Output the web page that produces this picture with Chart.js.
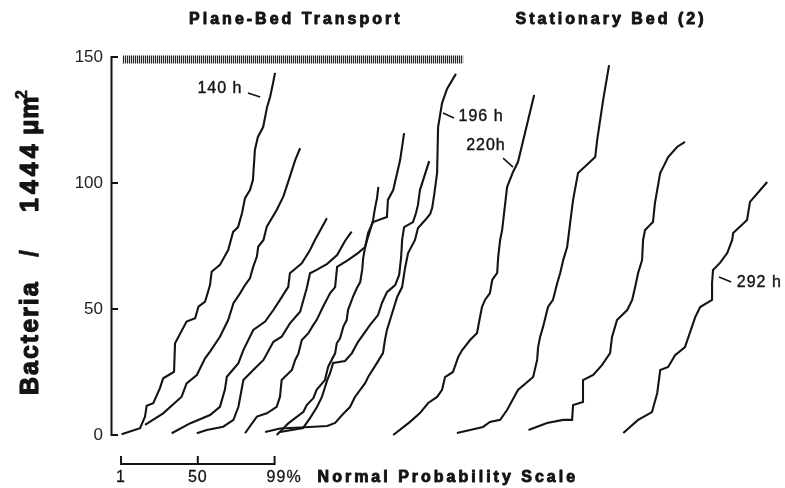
<!DOCTYPE html>
<html>
<head>
<meta charset="utf-8">
<script src="https://cdn.jsdelivr.net/npm/chart.js@4/dist/chart.umd.min.js"></script>
<style>
  html, body { margin: 0; padding: 0; background: #fff; }
  canvas { display: block; }
</style>
</head>
<body>
<canvas id="chart" width="785" height="488"></canvas>
<script>
(function () {
  "use strict";

  // x = position on the normal probability scale (standard deviates, each run
  // offset to the right), y = bacteria per 1444 um^2..
  const run140h = [[0.32,0.3],[0.88,2.7],[1.03,7.3],[1.08,11.6],[1.28,12.6],[1.48,18.5],[1.58,22.5],[1.84,24.5],[1.91,25.1],[1.94,36.4],[2.29,45.0],[2.55,46.3],[2.65,50.9],[2.85,52.9],[3.00,59.5],[3.05,64.8],[3.30,67.5],[3.55,73.4],[3.70,80.6],[3.85,82.5],[3.97,88.1],[4.06,94.0],[4.21,97.2],[4.30,101.2],[4.36,113.1],[4.45,118.3],[4.61,122.2],[4.73,130.2],[4.82,134.1],[4.91,139.7],[4.97,143.7]];
  const run2 = [[1.03,4.0],[1.58,8.6],[2.14,15.2],[2.29,20.5],[2.60,23.8],[2.85,30.4],[3.00,33.1],[3.30,39.0],[3.55,45.6],[3.71,52.3],[3.91,56.2],[4.06,59.5],[4.21,62.2],[4.31,66.8],[4.42,70.8],[4.46,74.7],[4.62,77.4],[4.72,82.7],[5.02,89.3],[5.22,94.6],[5.42,102.5],[5.58,109.1],[5.73,113.8]];
  const run3 = [[1.84,0.7],[2.39,4.6],[3.00,7.9],[3.30,11.2],[3.45,17.9],[3.51,23.1],[3.86,28.5],[4.01,33.7],[4.31,41.7],[4.67,45.0],[4.92,49.6],[5.12,53.6],[5.37,58.8],[5.42,64.2],[5.78,68.1],[6.03,73.4],[6.18,77.4],[6.54,86.0]];
  const run4 = [[2.60,0.7],[2.90,2.0],[3.40,3.3],[3.71,6.0],[3.86,11.2],[4.01,21.8],[4.31,25.8],[4.62,29.8],[4.92,37.0],[5.17,39.0],[5.42,44.3],[5.73,48.9],[5.93,58.2],[6.03,64.2],[6.23,65.5],[6.55,67.9],[6.85,71.4],[7.09,77.0],[7.29,80.7]];
  const run5 = [[4.06,0.7],[4.42,7.3],[4.72,8.6],[5.02,11.2],[5.12,15.2],[5.17,21.8],[5.48,25.8],[5.58,29.8],[5.68,32.4],[5.78,37.7],[5.98,40.4],[6.13,43.7],[6.23,45.6],[6.42,50.8],[6.64,56.3],[6.79,58.7],[6.85,66.7],[7.18,69.4],[7.48,72.2],[7.70,74.6],[7.79,80.2],[7.94,84.5],[8.36,86.5],[8.39,93.3],[8.55,97.2],[8.76,109.1],[8.88,119.8]];
  const run6 = [[5.02,0.0],[5.17,2.0],[5.37,4.6],[5.83,9.2],[5.93,11.9],[6.13,14.6],[6.23,17.9],[6.48,21.8],[6.58,27.1],[6.79,32.4],[6.84,36.4],[6.94,38.4],[7.04,43.0],[7.14,45.6],[7.18,49.6],[7.33,54.8],[7.45,58.3],[7.55,60.7],[7.61,65.5],[7.64,70.2],[7.70,74.6],[7.76,77.4],[7.85,81.3],[7.94,85.3],[8.00,90.1],[8.06,94.0],[8.10,98.5]];
  const run7 = [[5.12,1.2],[5.82,2.8],[6.03,6.7],[6.24,11.1],[6.39,15.1],[6.55,21.8],[6.64,24.6],[6.73,28.6],[7.09,29.4],[7.30,32.5],[7.48,36.9],[7.70,40.9],[7.85,43.7],[8.09,47.6],[8.21,52.4],[8.36,56.7],[8.61,59.5],[8.73,63.5],[8.79,70.6],[8.82,77.4],[8.88,82.5],[9.15,84.5],[9.24,88.1],[9.30,91.3],[9.36,97.2],[9.64,108.7]];
  const run196h = [[4.67,1.2],[5.12,2.6],[5.88,3.1],[6.55,3.6],[6.79,4.8],[7.03,8.3],[7.24,11.1],[7.39,15.1],[7.70,20.6],[7.79,23.0],[8.06,28.6],[8.24,32.5],[8.30,37.7],[8.36,41.7],[8.52,48.4],[8.67,54.8],[8.82,58.7],[8.91,66.3],[9.00,72.2],[9.21,77.4],[9.30,82.1],[9.52,85.3],[9.67,87.7],[9.73,90.1],[9.79,95.2],[9.88,104.0],[9.91,122.2],[10.03,131.7],[10.18,137.3],[10.45,143.3]];
  const run220h = [[8.55,0.0],[9.06,5.2],[9.36,8.7],[9.61,12.7],[9.88,15.1],[10.03,17.9],[10.12,23.0],[10.36,25.0],[10.52,31.0],[10.64,33.7],[10.88,37.7],[11.09,40.5],[11.18,46.8],[11.24,50.8],[11.33,53.6],[11.48,56.3],[11.55,61.5],[11.70,64.3],[11.73,70.6],[11.79,77.4],[11.85,81.3],[12.00,98.4],[12.18,104.4],[12.33,108.3],[12.82,134.9]];
  const runS2 = [[10.48,0.8],[10.88,2.0],[11.27,3.2],[11.48,5.2],[11.79,6.0],[12.00,9.9],[12.33,17.9],[12.79,23.0],[12.91,29.8],[12.94,34.9],[13.00,38.9],[13.09,42.9],[13.24,50.8],[13.39,53.6],[13.52,60.3],[13.61,64.3],[13.70,69.4],[13.82,74.6],[13.91,84.1],[14.00,93.3],[14.15,104.0],[14.67,110.3],[14.73,117.1],[14.91,132.9],[15.09,146.8]];
  const runS3 = [[12.65,2.0],[13.21,4.8],[13.70,6.0],[13.97,6.0],[14.00,11.9],[14.30,13.1],[14.30,21.8],[14.61,23.8],[14.88,27.8],[15.12,32.5],[15.18,38.9],[15.33,45.6],[15.64,49.6],[15.79,53.6],[15.88,58.7],[15.97,64.3],[16.09,69.4],[16.12,77.4],[16.18,81.3],[16.42,84.5],[16.48,92.1],[16.64,104.0],[16.73,106.3],[16.88,110.3],[17.15,114.3],[17.39,116.3]];
  const run292h = [[15.52,0.8],[15.97,6.0],[16.39,9.1],[16.55,16.7],[16.64,25.8],[16.88,27.0],[17.09,31.7],[17.39,34.9],[17.70,46.8],[17.85,50.8],[18.21,53.6],[18.21,60.3],[18.24,65.5],[18.45,68.3],[18.67,72.2],[18.82,77.4],[18.85,80.2],[19.27,85.3],[19.36,92.5],[19.88,100.4]];

  const runs = [run140h, run2, run3, run4, run5, run6, run7, run196h,
                run220h, runS2, runS3, run292h];

  // Transport period bar along the top (x range, at y).
  const transportBar = [0.36, 10.67];
  const transportBarY = 149;

  // Axis ticks and ranges.
  const yTicks = [0, 50, 100, 150];
  const xMax = 20.42;

  // Run labels with short leader lines (data units).
  const runLabels = ["140 h", "196 h", "220h", "292 h"];
  const runLabelX = [3.30, 11.21, 11.36, 19.64];
  const runLabelY = [137.3, 126.2, 114.7, 60.3];
  const leaderFrom = [[4.15,135.7], [10.06,127.8], [11.88,109.9], [18.42,62.7]];
  const leaderTo = [[4.52,134.1], [10.39,125.8], [12.18,106.3], [18.79,60.7]];

  // Group headings centred over these x positions.
  const groupTitles = ["Plane-Bed Transport", "Stationary Bed (2)"];
  const groupTitleX = [5.6, 15.15];

  // Normal probability scale bar: centre and the 1 / 50 / 99 % deviates.
  const scaleBarCentre = 2.63;
  const scaleBarZ = [-2.326, 0, 2.326];
  const scaleBarLabels = ["1", "50", "99%"];

  const INK = "#141414";
  const FONT = "'Liberation Sans', Arial, Helvetica, sans-serif";

  const datasets = runs.map(function (pts) {
    return {
      data: pts.map(function (p) { return { x: p[0], y: p[1] }; }),
      borderColor: INK,
      borderWidth: 2.1,
      pointRadius: 0,
      tension: 0,
      fill: false,
      clip: false,
    };
  });
  datasets.push({
    data: transportBar.map(function (x) { return { x: x, y: transportBarY }; }),
    borderColor: "#2a2a2a",
    borderWidth: 8,
    borderDash: [1.2, 0.8],
    borderCapStyle: "butt",
    pointRadius: 0,
    clip: false,
  });

  // Fill and lightly stroke text so the heavy headings look like the original.
  function heavyText(ctx, text, x, y, weight) {
    ctx.fillText(text, x, y);
    if (weight > 0) {
      ctx.lineWidth = weight;
      ctx.strokeText(text, x, y);
    }
  }

  // Axis line with inward ticks, headings, labels and the probability scale bar.
  const decorations = {
    id: "decorations",
    afterDraw: function (chart) {
      const ctx = chart.ctx;
      const xs = chart.scales.x;
      const ys = chart.scales.y;
      const area = chart.chartArea;
      const px = function (v) { return xs.getPixelForValue(v); };
      const py = function (v) { return ys.getPixelForValue(v); };

      ctx.save();
      ctx.strokeStyle = INK;
      ctx.fillStyle = INK;
      ctx.lineCap = "butt";
      ctx.lineJoin = "round";

      // y axis line + inward ticks
      ctx.lineWidth = 2;
      ctx.beginPath();
      ctx.moveTo(area.left + 0.5, py(150) - 1);
      ctx.lineTo(area.left + 0.5, py(0) + 1);
      yTicks.forEach(function (t) {
        ctx.moveTo(area.left, py(t));
        ctx.lineTo(area.left + 7, py(t));
      });
      ctx.stroke();

      // group headings
      ctx.font = "bold 16px " + FONT;
      ctx.letterSpacing = "3px";
      ctx.textAlign = "center";
      ctx.textBaseline = "middle";
      groupTitles.forEach(function (t, i) {
        heavyText(ctx, t, px(groupTitleX[i]), area.top - 37, 0.9);
      });

      // y axis title, rotated, drawn in pieces for the spacing and superscript
      ctx.save();
      ctx.translate(38, 0);
      ctx.rotate(-Math.PI / 2);
      ctx.textAlign = "left";
      ctx.textBaseline = "alphabetic";
      ctx.font = "bold 25px " + FONT;
      ctx.letterSpacing = "2px";
      heavyText(ctx, "Bacteria", -395, 0, 1.2);
      ctx.letterSpacing = "0px";
      heavyText(ctx, "/", -257, 0, 0.6);
      ctx.letterSpacing = "4px";
      heavyText(ctx, "1444", -212, 0, 1.2);
      ctx.letterSpacing = "1px";
      heavyText(ctx, "\u03bcm", -135, 0, 1.2);
      ctx.font = "bold 16px " + FONT;
      heavyText(ctx, "2", -99, -11, 0.6);
      ctx.restore();

      // run labels and leaders
      ctx.letterSpacing = "1px";
      ctx.font = "16px " + FONT;
      ctx.textAlign = "center";
      ctx.textBaseline = "middle";
      runLabels.forEach(function (t, i) {
        heavyText(ctx, t, px(runLabelX[i]), py(runLabelY[i]), 0.4);
      });
      ctx.lineWidth = 1.6;
      ctx.beginPath();
      leaderFrom.forEach(function (a, i) {
        const b = leaderTo[i];
        ctx.moveTo(px(a[0]), py(a[1]));
        ctx.lineTo(px(b[0]), py(b[1]));
      });
      ctx.stroke();

      // normal probability scale bar below the plot
      const barY = area.bottom + 29;
      const tickX = scaleBarZ.map(function (z) { return px(scaleBarCentre + z); });
      ctx.lineWidth = 2;
      ctx.beginPath();
      ctx.moveTo(tickX[0], barY);
      ctx.lineTo(tickX[2], barY);
      tickX.forEach(function (x) {
        ctx.moveTo(x, barY + 1);
        ctx.lineTo(x, barY - 8);
      });
      ctx.stroke();

      ctx.font = "16px " + FONT;
      ctx.letterSpacing = "1px";
      const labY = barY + 14;
      ctx.textAlign = "center";
      heavyText(ctx, scaleBarLabels[0], tickX[0], labY, 0.3);
      heavyText(ctx, scaleBarLabels[1], tickX[1], labY, 0.3);
      ctx.textAlign = "left";
      heavyText(ctx, scaleBarLabels[2], tickX[2] - 8, labY, 0.3);
      ctx.font = "bold 16px " + FONT;
      ctx.letterSpacing = "3px";
      heavyText(ctx, "Normal Probability Scale", tickX[2] + 43, labY, 0.9);

      ctx.restore();
    },
  };

  new Chart(document.getElementById("chart").getContext("2d"), {
    type: "line",
    data: { datasets: datasets },
    options: {
      responsive: false,
      animation: false,
      layout: { padding: { top: 57, bottom: 53, left: 0, right: 0 } },
      scales: {
        x: { type: "linear", min: 0, max: xMax, display: false },
        y: {
          type: "linear",
          min: 0,
          max: 150,
          afterFit: function (scale) { scale.width = 111; },
          afterBuildTicks: function (scale) {
            scale.ticks = yTicks.map(function (v) { return { value: v }; });
          },
          grid: { display: false, drawTicks: false },
          border: { display: false },
          ticks: {
            color: "#222",
            padding: 8,
            font: { family: FONT, size: 17 },
          },
        },
      },
      plugins: { legend: { display: false }, tooltip: { enabled: false } },
    },
    plugins: [decorations],
  });
})();
</script>
</body>
</html>
